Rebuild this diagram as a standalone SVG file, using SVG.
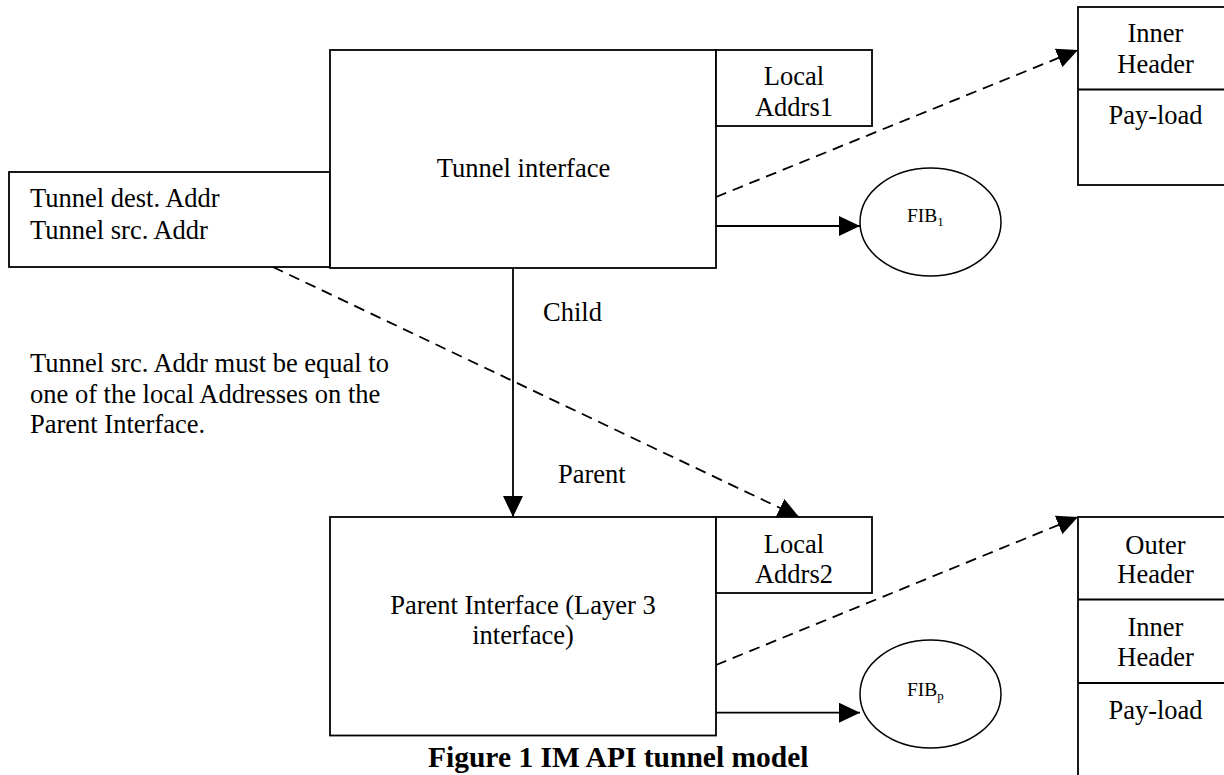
<svg xmlns="http://www.w3.org/2000/svg" width="1224" height="775" viewBox="0 0 1224 775">
<style>
  .box { fill: #ffffff; stroke: #000000; stroke-width: 1.8; }
  .ell { fill: #ffffff; stroke: #000000; stroke-width: 1.5; }
  .t { font-family: "Liberation Serif", "Times New Roman", serif; font-size: 26.5px; fill: #000000; }
  .c { text-anchor: middle; }
  .fib { font-family: "Liberation Serif", "Times New Roman", serif; font-size: 19.5px; fill: #000000; }
  .sub { font-size: 13px; }
  .title { font-family: "Liberation Serif", "Times New Roman", serif; font-size: 29.5px; font-weight: bold; fill: #000000; }
  .solid { fill: none; stroke: #000000; stroke-width: 1.8; }
  .dash { fill: none; stroke: #000000; stroke-width: 1.8; stroke-dasharray: 11 7; }
</style>
<defs>
  <marker id="arrow" markerUnits="userSpaceOnUse" markerWidth="22" markerHeight="20" refX="21" refY="10" orient="auto" viewBox="0 0 22 20">
    <path d="M0,0 L21,10 L0,20 Z" fill="#000000"/>
  </marker>
</defs>
<rect x="0" y="0" width="1224" height="775" fill="#ffffff"/>

<g id="tunnel-addr">
  <rect class="box" x="9" y="172" width="321" height="95"/>
  <text class="t" x="30" y="207">Tunnel dest. Addr</text>
  <text class="t" x="30" y="238.5">Tunnel src. Addr</text>
</g>

<g id="tunnel-interface">
  <rect class="box" x="330" y="50" width="386" height="218"/>
  <text class="t c" x="523.5" y="177">Tunnel interface</text>
</g>

<g id="local-addrs1">
  <rect class="box" x="716" y="50" width="156" height="76"/>
  <text class="t c" x="794" y="85">Local</text>
  <text class="t c" x="794" y="116">Addrs1</text>
</g>

<g id="inner-packet">
  <rect class="box" x="1078" y="7" width="160" height="178"/>
  <line class="solid" x1="1078" y1="89.5" x2="1238" y2="89.5"/>
  <text class="t c" x="1155.5" y="42">Inner</text>
  <text class="t c" x="1155.5" y="73">Header</text>
  <text class="t c" x="1155.5" y="124">Pay-load</text>
</g>

<g id="fib1">
  <ellipse class="ell" cx="930.5" cy="222" rx="70.5" ry="54"/>
  <text class="fib" x="907" y="222">FIB<tspan class="sub" dy="4">1</tspan></text>
</g>

<g id="note">
  <text class="t" x="30" y="372">Tunnel src. Addr must be equal to</text>
  <text class="t" x="30" y="402.5">one of the local Addresses on the</text>
  <text class="t" x="30" y="433">Parent Interface.</text>
</g>

<g id="parent-interface">
  <rect class="box" x="330" y="517" width="386" height="218.5"/>
  <text class="t c" x="523" y="613.5">Parent Interface (Layer 3</text>
  <text class="t c" x="523" y="643.5">interface)</text>
</g>

<g id="local-addrs2">
  <rect class="box" x="716" y="517" width="156" height="76"/>
  <text class="t c" x="794" y="552.5">Local</text>
  <text class="t c" x="794" y="583">Addrs2</text>
</g>

<g id="outer-packet">
  <rect class="box" x="1078" y="517" width="160" height="300"/>
  <line class="solid" x1="1078" y1="599.5" x2="1238" y2="599.5"/>
  <line class="solid" x1="1078" y1="683" x2="1238" y2="683"/>
  <text class="t c" x="1155.5" y="553.5">Outer</text>
  <text class="t c" x="1155.5" y="583">Header</text>
  <text class="t c" x="1155.5" y="636">Inner</text>
  <text class="t c" x="1155.5" y="665.5">Header</text>
  <text class="t c" x="1155.5" y="718.5">Pay-load</text>
</g>

<g id="fibp">
  <ellipse class="ell" cx="930.5" cy="694" rx="70.5" ry="54"/>
  <text class="fib" x="907" y="696">FIB<tspan class="sub" dy="4">p</tspan></text>
</g>

<g id="connectors">
  <line class="solid" x1="513" y1="268" x2="513" y2="517" marker-end="url(#arrow)"/>
  <line class="solid" x1="716" y1="226" x2="860" y2="226" marker-end="url(#arrow)"/>
  <line class="solid" x1="716" y1="712.7" x2="860" y2="712.7" marker-end="url(#arrow)"/>
  <line class="dash" x1="716" y1="197" x2="1078" y2="50" marker-end="url(#arrow)"/>
  <line class="dash" x1="716" y1="665" x2="1078" y2="517" marker-end="url(#arrow)"/>
  <line class="dash" x1="273" y1="267" x2="799" y2="517" marker-end="url(#arrow)"/>
  <text class="t" x="543" y="321">Child</text>
  <text class="t" x="558" y="483">Parent</text>
</g>

<g id="caption">
  <text class="title" x="428" y="767">Figure 1 IM API tunnel model</text>
</g>
</svg>
